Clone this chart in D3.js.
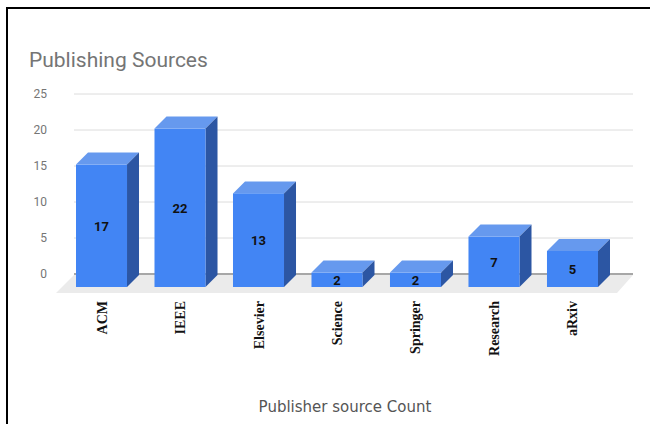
<!DOCTYPE html>
<html>
<head>
<meta charset="utf-8">
<script src="https://cdn.jsdelivr.net/npm/d3@7"></script>
<style>
  body { margin: 0; background: #fff; }
  svg { display: block; }
</style>
</head>
<body>
<script>
(function(){
    //chart data
    var categories = ['ACM', 'IEEE', 'Elsevier', 'Science', 'Springer', 'Research', 'aRxiv'];
    var counts = [17, 22, 13, 2, 2, 7, 5];
    var yTicks = [0, 5, 10, 15, 20, 25];
    var title = 'Publishing Sources';
    var xTitle = 'Publisher source Count';

    var width = 650,
        height = 424;

    var svg = d3.select("body")
        .append("svg")
        .attr("width", width)
        .attr("height", height);

    //frame lines (top and left only)
    svg.append("line").attr("x1", 7).attr("x2", width).attr("y1", 8).attr("y2", 8)
        .attr("stroke", "#000").attr("stroke-width", 2);
    svg.append("line").attr("x1", 7).attr("x2", 7).attr("y1", 7).attr("y2", height)
        .attr("stroke", "#000").attr("stroke-width", 2);

    //3d depth offset (front face -> back plane)
    var depth = {dx: 12, dy: -12};

    //back plane scales
    var y = d3.scaleLinear().domain([0, 25]).range([274, 94]);
    var x = d3.scaleBand().domain(categories).range([60.3, 613.7]).paddingInner(0.35).paddingOuter(0.2);

    //title
    svg.append("text")
        .attr("x", 29).attr("y", 67)
        .attr("font-family", "Roboto, sans-serif")
        .attr("font-size", 21)
        .attr("fill", "#757575")
        .text(title);

    //floor
    var floorBack = y(0);
    svg.append("path")
        .attr("d", "M74," + (floorBack + 1) + "L633," + (floorBack + 1) + "L617,293L56,293Z")
        .attr("fill", "#ebebeb");

    //gridlines
    svg.selectAll(".grid")
        .data(yTicks)
        .enter()
        .append("line")
        .attr("class", "grid")
        .attr("x1", 74).attr("x2", 633)
        .attr("y1", function(d){ return y(d); })
        .attr("y2", function(d){ return y(d); })
        .attr("stroke", function(d){ return d === 0 ? "#8a8a8a" : "#dcdcdc"; })
        .attr("stroke-width", function(d){ return d === 0 ? 1.5 : 1; });

    //y tick labels
    svg.selectAll(".ytick")
        .data(yTicks)
        .enter()
        .append("text")
        .attr("class", "ytick")
        .attr("x", 47)
        .attr("y", function(d){ return y(d) + 4; })
        .attr("text-anchor", "end")
        .attr("font-family", "Roboto, sans-serif")
        .attr("font-size", 12)
        .attr("fill", "#757575")
        .text(function(d){ return d; });

    //bars: front face sits in front of back plane by depth
    var bars = svg.selectAll(".bar")
        .data(categories)
        .enter()
        .append("g")
        .attr("class", "bar");

    var fyBase = y(0) - depth.dy + 1;
    function fx(d){ return x(d); }
    function fyTop(d, i){ return fyBase - (y(0) - y(counts[i])); }

    //top face
    bars.append("path")
        .attr("d", function(d, i){
            var x0 = fx(d), x1 = x0 + x.bandwidth(), t = fyTop(d, i);
            return "M" + x0 + "," + t + "L" + (x0 + depth.dx) + "," + (t + depth.dy) +
                "L" + (x1 + depth.dx) + "," + (t + depth.dy) + "L" + x1 + "," + t + "Z";
        })
        .attr("fill", "#6699ee");

    //side face
    bars.append("path")
        .attr("d", function(d, i){
            var x1 = fx(d) + x.bandwidth(), t = fyTop(d, i);
            return "M" + x1 + "," + t + "L" + (x1 + depth.dx) + "," + (t + depth.dy) +
                "L" + (x1 + depth.dx) + "," + (fyBase + depth.dy) + "L" + x1 + "," + fyBase + "Z";
        })
        .attr("fill", "#2c56a3");

    //front face
    bars.append("rect")
        .attr("x", fx)
        .attr("y", fyTop)
        .attr("width", x.bandwidth())
        .attr("height", function(d, i){ return fyBase - fyTop(d, i); })
        .attr("fill", "#4285f4");

    //value labels
    bars.append("text")
        .attr("x", function(d){ return fx(d) + x.bandwidth() / 2; })
        .attr("y", function(d, i){ return (fyTop(d, i) + fyBase) / 2 + 5; })
        .attr("text-anchor", "middle")
        .attr("font-family", "Roboto, sans-serif")
        .attr("font-weight", "bold")
        .attr("font-size", 13)
        .attr("fill", "#111")
        .text(function(d, i){ return counts[i]; });

    //category labels, rotated
    svg.selectAll(".xlab")
        .data(categories)
        .enter()
        .append("text")
        .attr("class", "xlab")
        .attr("transform", function(d){
            return "translate(" + (fx(d) + x.bandwidth() / 2 + 5) + ",301) rotate(-90)";
        })
        .attr("text-anchor", "end")
        .attr("font-family", "'Liberation Serif', 'Times New Roman', serif")
        .attr("font-weight", "bold")
        .attr("font-size", 14)
        .attr("fill", "#111")
        .text(function(d){ return d; });

    //x axis title
    svg.append("text")
        .attr("x", 345).attr("y", 412)
        .attr("text-anchor", "middle")
        .attr("font-family", "'DejaVu Sans', sans-serif")
        .attr("font-size", 15)
        .attr("fill", "#555")
        .text(xTitle);
})();
</script>
</body>
</html>
